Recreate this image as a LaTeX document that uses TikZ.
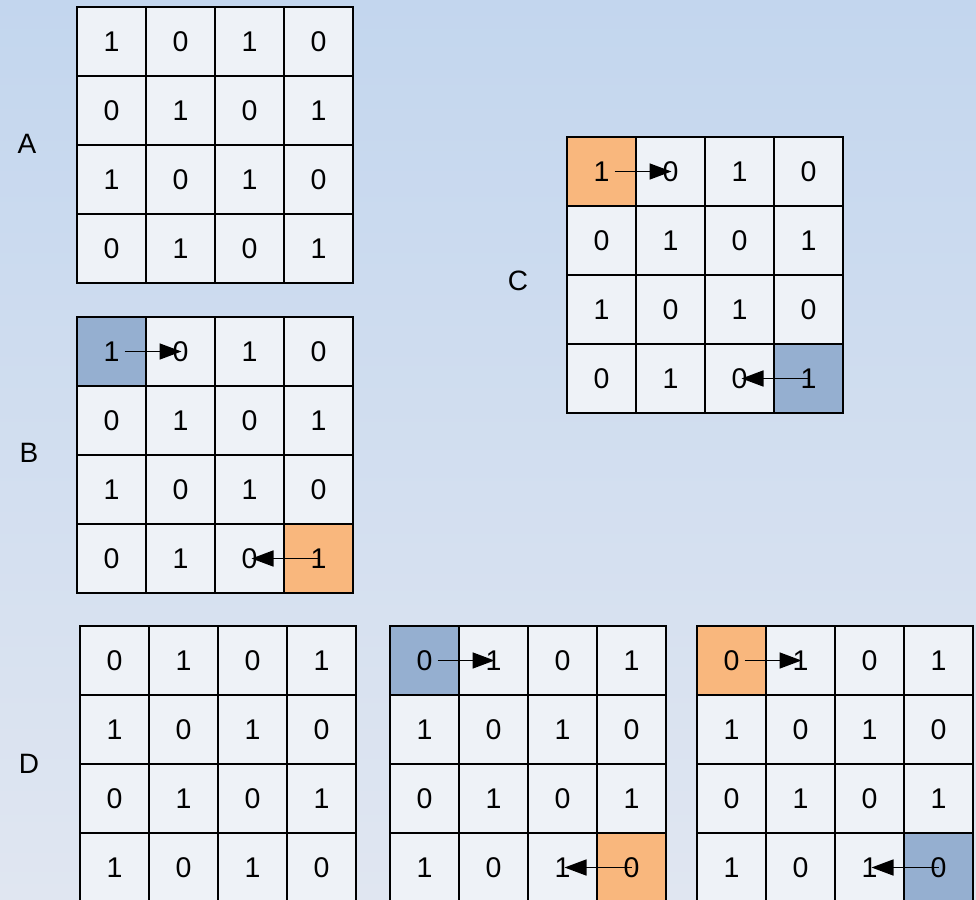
\documentclass[tikz,border=0pt]{standalone}
\usepackage{fontspec}
\setmainfont{Liberation Sans}
\usetikzlibrary{arrows.meta}
\definecolor{bgtop}{RGB}{195,214,238}
\definecolor{bgbot}{RGB}{224,230,241}
\definecolor{cellc}{RGB}{238,242,247}
\definecolor{bluec}{RGB}{149,175,208}
\definecolor{orangec}{RGB}{249,183,125}
\tikzset{
  cell/.style={draw=black, line width=1.3pt, minimum size=69pt, inner sep=0pt,
    font=\fontsize{28.5}{30}\selectfont},
  lbl/.style={font=\fontsize{28}{30}\selectfont, inner sep=0pt},
  arr/.style={line width=1.7pt, -{Triangle[length=22pt,width=16pt]}}
}
\begin{document}
\begin{tikzpicture}[x=1pt,y=1pt]
\useasboundingbox (0,0) rectangle (976,-899);
\clip (0,0) rectangle (976,-899);
\shade[top color=bgtop, bottom color=bgbot] (0,0) rectangle (976,-899);
\foreach \g/\gx/\gy/\p/\ctl/\cbr in {A/77/7/0/cellc/cellc, B/77/317/0/bluec/orangec,
  C/567/137/0/orangec/bluec, D1/80/626/1/cellc/cellc, D2/390/626/1/bluec/orangec,
  D3/697/626/1/orangec/bluec}{
  \foreach \r in {1,2,3,4}{
    \foreach \c in {1,2,3,4}{
      \pgfmathtruncatemacro\v{mod(\r+\c+1+\p,2)}
      \edef\fc{\ifnum\r\c=11 \ctl\else\ifnum\r\c=44 \cbr\else cellc\fi\fi}
      \node[cell, fill=\fc] (\g-\r-\c) at ({\gx+69*(\c-0.5)},{-(\gy+69*(\r-0.5))}) {\v};
    }
  }
}
\node[lbl] (la) at (27,-144) {A};
\node[lbl] (lb) at (29,-453) {B};
\node[lbl] (lc) at (518,-281) {C};
\node[lbl] (ld) at (29,-764) {D};
\foreach \g in {B,C,D2,D3}{
  \draw[arr] ([xshift=13pt]\g-1-1.center) -- ([xshift=1pt]\g-1-2.center);
  \draw[arr] (\g-4-4.center) -- ([xshift=2pt]\g-4-3.center);
}
\end{tikzpicture}
\end{document}
